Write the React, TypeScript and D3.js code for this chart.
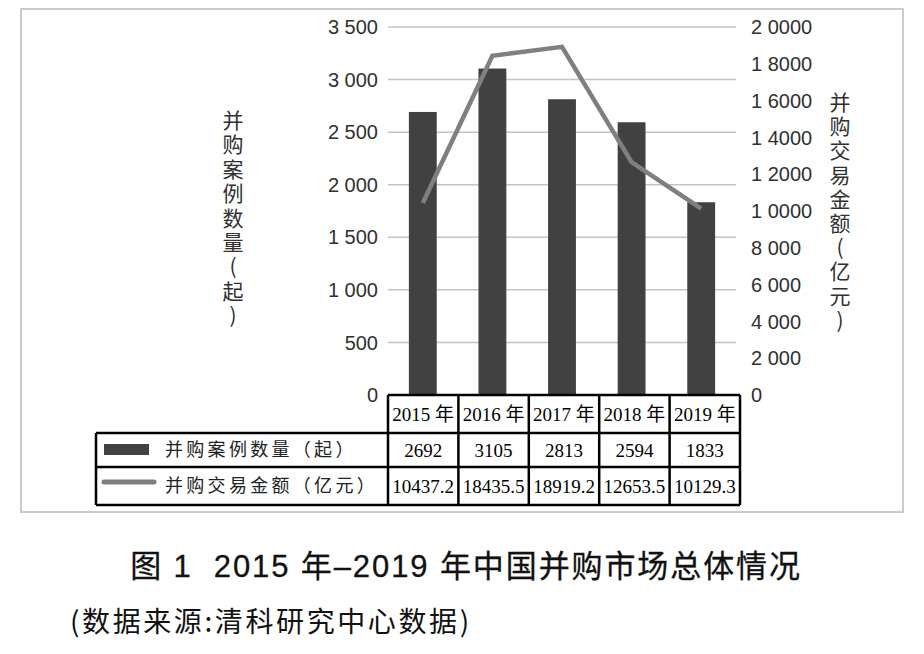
import React from "react";
import * as d3 from "d3";

const years = ["2015 年", "2016 年", "2017 年", "2018 年", "2019 年"];
const dealCounts = [2692, 3105, 2813, 2594, 1833];
const dealCountLabels = ["2692", "3105", "2813", "2594", "1833"];
const dealAmounts = [10437.2, 18435.5, 18919.2, 12653.5, 10129.3];
const dealAmountLabels = ["10437.2", "18435.5", "18919.2", "12653.5", "10129.3"];
const leftTicks = [0, 500, 1000, 1500, 2000, 2500, 3000, 3500];
const leftTickLabels = ["0", "500", "1 000", "1 500", "2 000", "2 500", "3 000", "3 500"];
const rightTicks = [0, 2000, 4000, 6000, 8000, 10000, 12000, 14000, 16000, 18000, 20000];
const rightTickLabels = ["0", "2 000", "4 000", "6 000", "8 000", "1 0000", "1 2000", "1 4000", "1 6000", "1 8000", "2 0000"];
const seriesNames = ["并购案例数量（起）", "并购交易金额（亿元）"];
const leftTitle = "并购案例数量(起)";
const rightTitle = "并购交易金额(亿元)";
const caption = "图 1  2015 年–2019 年中国并购市场总体情况";
const source = "(数据来源:清科研究中心数据)";

const W = 924;
const H = 654;
const plotLeft = 388;
const plotRight = 736;
const plotTop = 27;
const plotBottom = 395;
const tableRight = 740;
const tableLeft = 96;
const rowBottoms = [433, 467, 505];

const SANS = "'Liberation Sans', Arial, 'Noto Sans CJK SC', sans-serif";
const CJK = "'Noto Sans CJK SC', 'Liberation Sans', sans-serif";
const SERIF = "'Liberation Serif', 'Times New Roman', 'Noto Sans CJK SC', serif";

const BAR = "#414141";
const LINE = "#7f7f7f";
const GRID = "#c4c4c4";

export default function App() {
  const x = d3.scaleBand<string>().domain(years).range([plotLeft, plotRight]).padding(0);
  const xt = d3.scaleBand<string>().domain(years).range([plotLeft, tableRight]).padding(0);
  const yL = d3.scaleLinear().domain([0, 3500]).range([plotBottom, plotTop]);
  const yR = d3.scaleLinear().domain([0, 20000]).range([plotBottom, plotTop]);
  const barW = x.bandwidth() * 0.4;
  const cx = (y: string) => (x(y) as number) + x.bandwidth() / 2;

  const line = d3
    .line<number>()
    .x((_, i) => cx(years[i]))
    .y((d) => yR(d));

  const vStyle: React.CSSProperties = { writingMode: "vertical-rl" as any, textOrientation: "upright" as any };

  return (
    <svg
      width={W}
      height={H}
      viewBox={`0 0 ${W} ${H}`}
      style={{ position: "absolute", left: 0, top: 0, background: "#fff" }}
    >
      <rect x={0} y={0} width={W} height={H} fill="#fff" />
      <rect x={21} y={9} width={882} height={503} fill="#fff" stroke="#cbcbcb" strokeWidth={2} />

      {/* gridlines */}
      {leftTicks
        .filter((t) => t > 0)
        .map((t) => (
          <line key={`g${t}`} x1={plotLeft} x2={plotRight} y1={yL(t)} y2={yL(t)} stroke={GRID} strokeWidth={1.5} />
        ))}

      {/* left tick labels */}
      {leftTicks.map((t, i) => (
        <text
          key={`l${t}`}
          x={378}
          y={yL(t)}
          dy="0.36em"
          textAnchor="end"
          fontFamily={SANS}
          fontSize={20}
          fill="#303030"
        >
          {leftTickLabels[i]}
        </text>
      ))}

      {/* right tick labels */}
      {rightTicks.map((t, i) => (
        <text
          key={`r${t}`}
          x={751}
          y={yR(t)}
          dy="0.36em"
          textAnchor="start"
          fontFamily={SANS}
          fontSize={20}
          fill="#303030"
        >
          {rightTickLabels[i]}
        </text>
      ))}

      {/* bars */}
      {dealCounts.map((v, i) => (
        <rect
          key={`b${i}`}
          x={cx(years[i]) - barW / 2}
          y={yL(v)}
          width={barW}
          height={plotBottom - yL(v)}
          fill={BAR}
        />
      ))}

      {/* line */}
      <path d={line(dealAmounts) || ""} fill="none" stroke={LINE} strokeWidth={4.5} />

      {/* axis titles (vertical) */}
      <text
        x={233}
        y={109.5}
        style={vStyle}
        fontFamily={CJK}
        fontSize={21}
        letterSpacing={3.4}
        fill="#303030"
      >
        {leftTitle}
      </text>
      <text
        x={840}
        y={91.5}
        style={vStyle}
        fontFamily={CJK}
        fontSize={21}
        letterSpacing={3.2}
        fill="#303030"
      >
        {rightTitle}
      </text>

      {/* data table */}
      <g stroke="#000" strokeWidth={2.5} fill="none">
        <line x1={plotLeft} x2={tableRight} y1={plotBottom} y2={plotBottom} />
        <line x1={tableLeft} x2={tableRight} y1={rowBottoms[0]} y2={rowBottoms[0]} />
        <line x1={tableLeft} x2={tableRight} y1={rowBottoms[1]} y2={rowBottoms[1]} />
        <line x1={tableLeft} x2={tableRight} y1={rowBottoms[2]} y2={rowBottoms[2]} />
        <line x1={tableLeft} x2={tableLeft} y1={rowBottoms[0]} y2={rowBottoms[2]} />
        {years.map((yr) => (
          <line key={`v${yr}`} x1={xt(yr)} x2={xt(yr)} y1={plotBottom} y2={rowBottoms[2]} />
        ))}
        <line x1={tableRight} x2={tableRight} y1={plotBottom} y2={rowBottoms[2]} />
      </g>

      {years.map((yr, i) => {
        const c = (xt(yr) as number) + xt.bandwidth() / 2;
        return (
          <g key={`t${yr}`} fontFamily={SERIF} fontSize={19} fill="#000" textAnchor="middle">
            <text x={c} y={(plotBottom + rowBottoms[0]) / 2} dy="0.36em">
              {yr}
            </text>
            <text x={c} y={(rowBottoms[0] + rowBottoms[1]) / 2} dy="0.36em">
              {dealCountLabels[i]}
            </text>
            <text x={c} y={(rowBottoms[1] + rowBottoms[2]) / 2} dy="0.36em">
              {dealAmountLabels[i]}
            </text>
          </g>
        );
      })}

      {/* legend cells */}
      <rect x={104} y={444} width={45} height={11} fill={BAR} />
      <line x1={104} x2={154} y1={482} y2={482} stroke={LINE} strokeWidth={5} strokeLinecap="round" />
      <text
        x={165}
        y={(rowBottoms[0] + rowBottoms[1]) / 2}
        dy="0.36em"
        fontFamily={CJK}
        fontSize={18}
        letterSpacing={3.3}
        fill="#222"
      >
        {seriesNames[0]}
      </text>
      <text
        x={165}
        y={(rowBottoms[1] + rowBottoms[2]) / 2}
        dy="0.36em"
        fontFamily={CJK}
        fontSize={18}
        letterSpacing={3.3}
        fill="#222"
      >
        {seriesNames[1]}
      </text>

      {/* caption */}
      <text
        x={466}
        y={577}
        textAnchor="middle"
        fontFamily={SANS}
        fontSize={31}
        letterSpacing={1.9}
        fill="#111"
        stroke="#111"
        strokeWidth={0.3}
        style={{ whiteSpace: "pre" }}
      >
        {caption}
      </text>
      <text x={70} y={632} fontFamily={CJK} fontSize={28} letterSpacing={2.6} fill="#111">
        {source}
      </text>
    </svg>
  );
}
